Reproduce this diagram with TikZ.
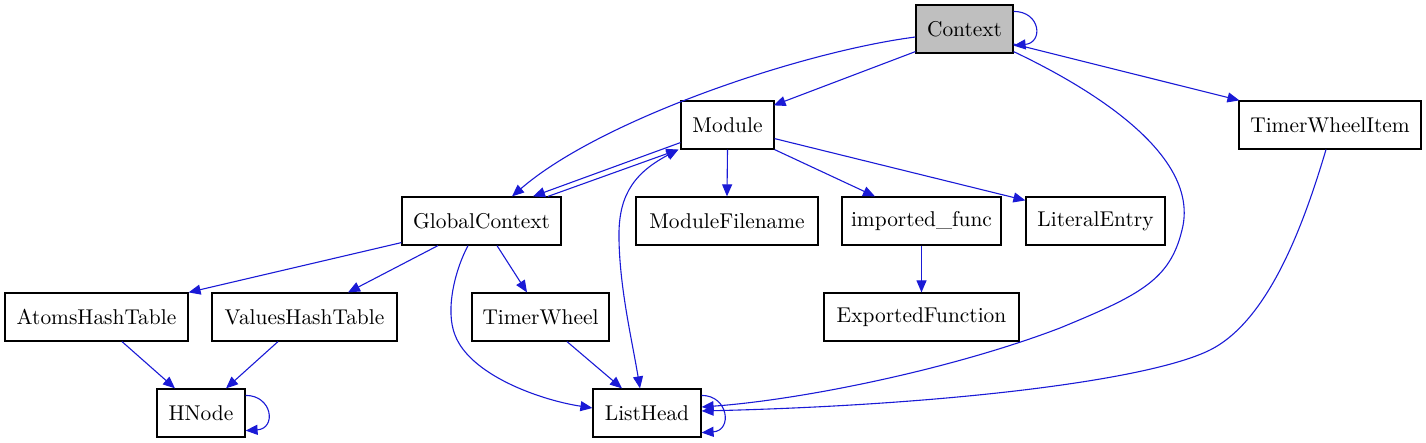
\documentclass[tikz,border=0pt]{standalone}
\usetikzlibrary{arrows.meta}
\definecolor{edgeblue}{RGB}{26,26,214}
\definecolor{ctxgray}{RGB}{191,191,191}
\begin{document}
\begin{tikzpicture}[x=0.5pt,y=-0.5pt,
  box/.style={draw=black,line width=0.6pt,fill=white,minimum height=24pt,inner sep=0pt,
    font=\fontsize{10.7pt}{12pt}\selectfont},
  edge/.style={draw=edgeblue,line width=0.55pt,-{Triangle[length=6pt,width=5pt]}},
  bothedge/.style={draw=edgeblue,line width=0.55pt,{Triangle[length=6pt,width=5pt]}-{Triangle[length=6pt,width=5pt]}}]
\useasboundingbox (0,0) rectangle (1426,443);
% nodes
\node[box,fill=ctxgray,minimum width=48.5pt] (ctx) at (964.5,29) {Context};
\node[box,minimum width=46.5pt] (mod) at (727.5,125) {Module};
\node[box,minimum width=91pt] (twi) at (1330,125) {TimerWheelItem};
\node[box,minimum width=79.5pt] (gc) at (481.5,221) {GlobalContext};
\node[box,minimum width=91pt] (mf) at (727,221) {ModuleFilename};
\node[box,minimum width=79.5pt] (impf) at (921.5,221) {imported\_func};
\node[box,minimum width=69.5pt] (lit) at (1095.5,221) {LiteralEntry};
\node[box,minimum width=91.5pt] (ath) at (96.5,317) {AtomsHashTable};
\node[box,minimum width=92.5pt] (vht) at (304.5,317) {ValuesHashTable};
\node[box,minimum width=68.5pt] (tw) at (540.5,317) {TimerWheel};
\node[box,minimum width=97.5pt] (ef) at (921.5,317) {ExportedFunction};
\node[box,minimum width=44pt] (hn) at (201,413) {HNode};
\node[box,minimum width=54pt] (lh) at (647,413) {ListHead};
% edges
\draw[edge] ([shift={(0,7)}]ctx.north east) .. controls +(27,0) and +(30,-3) .. ([shift={(0,-8)}]ctx.south east);
\draw[edge] ([shift={(0,-2)}]ctx.south west) -- ([shift={(-1,5)}]mod.north east);
\draw[edge] ([shift={(0,8)}]ctx.west) .. controls (800,52) and (600,120) .. ([shift={(30.5,0)}]gc.north);
\draw[edge] ([shift={(0,15)}]ctx.east) -- ([shift={(1,0)}]twi.north west);
\draw[edge] ([shift={(0,-2)}]ctx.south east) .. controls (1105,95) and (1200,160) .. (1182,230)
   .. controls (1170,280) and (1140,295) .. (1060,328)
   .. controls (950,370) and (800,400) .. ([shift={(0,-6)}]lh.east);
\draw[edge] ([shift={(-4,0)}]twi.south) .. controls (1305,220) and (1270,320) .. (1210,350)
   .. controls (1150,380) and (950,405) .. ([shift={(0,-2)}]lh.east);
\draw[edge] ([shift={(0,-7)}]mod.south west) -- ([shift={(51.5,0)}]gc.north);
\draw[edge] ([shift={(66.5,0)}]gc.north) -- ([shift={(-2,0)}]mod.south west);
\draw[bothedge] ([shift={(-2,0)}]mod.south west) .. controls (630,175) and (618,200) .. (619,240)
   .. controls (620,290) and (632,340) .. ([shift={(-7,0)}]lh.north);
\draw[edge] ([shift={(-13.5,0)}]gc.south) .. controls (455,270) and (445,310) .. (455,335)
   .. controls (470,375) and (540,400) .. ([shift={(0,-5)}]lh.west);
\draw[edge] ([shift={(15.5,0)}]gc.south) -- ([shift={(-13.5,0)}]tw.north);
\draw[edge] ([shift={(0,-3)}]gc.south west) -- (ath.north east);
\draw[edge] ([shift={(-43.5,0)}]gc.south) -- ([shift={(43.5,0)}]vht.north);
\draw[edge] ([shift={(25.5,0)}]ath.south) -- ([shift={(-26,0)}]hn.north);
\draw[edge] ([shift={(-26.5,0)}]vht.south) -- ([shift={(25,0)}]hn.north);
\draw[edge] ([shift={(0,7)}]hn.north east) .. controls +(27,0) and +(31,-2) .. ([shift={(0,-7)}]hn.south east);
\draw[edge] ([shift={(26.5,0)}]tw.south) -- ([shift={(-25,0)}]lh.north);
\draw[edge] ([shift={(0,7)}]lh.north east) .. controls +(27,0) and +(31,-2) .. ([shift={(0,-5)}]lh.south east);
\draw[edge] (mod.south) -- (mf.north);
\draw[edge] (mod.south east) -- ([shift={(-46.5,0)}]impf.north);
\draw[edge] ([shift={(0,-11)}]mod.south east) -- ([shift={(0,4)}]lit.north west);
\draw[edge] (impf.south) -- (ef.north);
\end{tikzpicture}
\end{document}
